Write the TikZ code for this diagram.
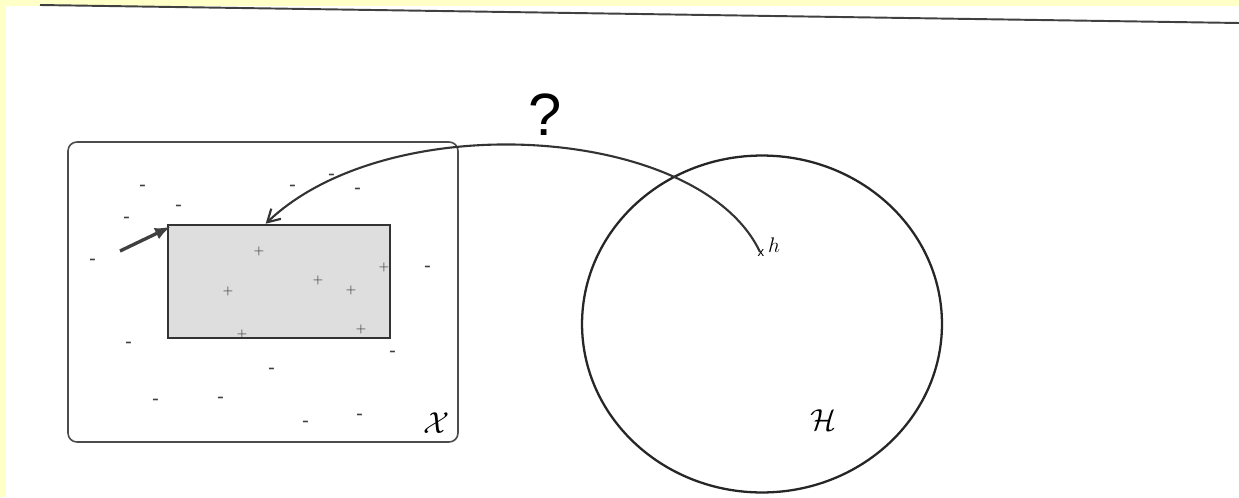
\documentclass[tikz,border=0pt]{standalone}
\usepackage{amsmath,amssymb}
\usepackage{fontspec}
\setsansfont{Liberation Sans}
\usetikzlibrary{arrows.meta,shapes.geometric}

\definecolor{scanbg}{HTML}{FFFFC8}

\begin{document}
\begin{tikzpicture}[x=.02cm,y=-.02cm,>=Latex,line width=.6pt,
  negmark/.style={font=\small\bfseries,text=black!75,inner sep=0pt},
  posmark/.style={font=\fontsize{7.5}{7.5}\selectfont,text=black!80,inner sep=0pt}]
\useasboundingbox (0,0) rectangle (1239,497);
\fill[white] (0,0) rectangle (1239,497);
\fill[scanbg] (0,0) rectangle (1239,6);
\fill[scanbg] (0,0) rectangle (6,497);
\draw[line width=1.1pt,black!75] (40,5) -- (1239,23);
\node[draw=black!70,rounded corners=5pt,line width=.9pt,minimum width=7.8cm,minimum height=6cm,inner sep=0pt] (space) at (263,292) {};
\node[draw=black!80,fill=black!13,line width=1.5pt,minimum width=4.44cm,minimum height=2.26cm,inner sep=0pt] (concept) at (279,281.5) {};
\node[draw=black!85,ellipse,line width=1.3pt,minimum width=7.2cm,minimum height=6.74cm,inner sep=0pt] (hyp) at (762,324) {};
\foreach \p in {(143,187),(179,207),(127,219),(93,261),(332,176),(293,187),(358,190),(428,268),
  (129,344),(393,353),(272,370),(156,401),(221,399),(306,423),(360,416)}
  \node[negmark] at \p {-};
\foreach \p in {(259,251),(384,267),(318,280),(228,291),(351,290),(361,329),(242,334)}
  \node[posmark] at \p {$+$};
\node (lblX) at (437,423) {\fontsize{17}{17}\selectfont$\mathcal{X}$};
\node (lblH) at (823,420) {\fontsize{19}{19}\selectfont$\mathcal{H}$};
\node (ask) at (545,115) {\sffamily\fontsize{34}{36}\selectfont ?};
\coordinate (h) at (760,252);
\node[font=\sffamily\fontsize{7.5}{7.5}\selectfont,inner sep=0pt] (hmark) at (761,253) {x};
\node (hlbl) at (774,245) {\fontsize{13}{13}\selectfont$h$};
\draw[line width=1.2pt,black!80,-{Straight Barb[length=7pt,width=8pt]}] (h) .. controls (700,125) and (390,105) .. ([xshift=1.98cm]concept.north west);
\coordinate (tail) at (120,251);
\draw[line width=1.9pt,black!75,-{Latex[length=9pt,width=7pt]}] (tail) -- ([shift={(4,3)}]concept.north west);
\end{tikzpicture}
\end{document}
